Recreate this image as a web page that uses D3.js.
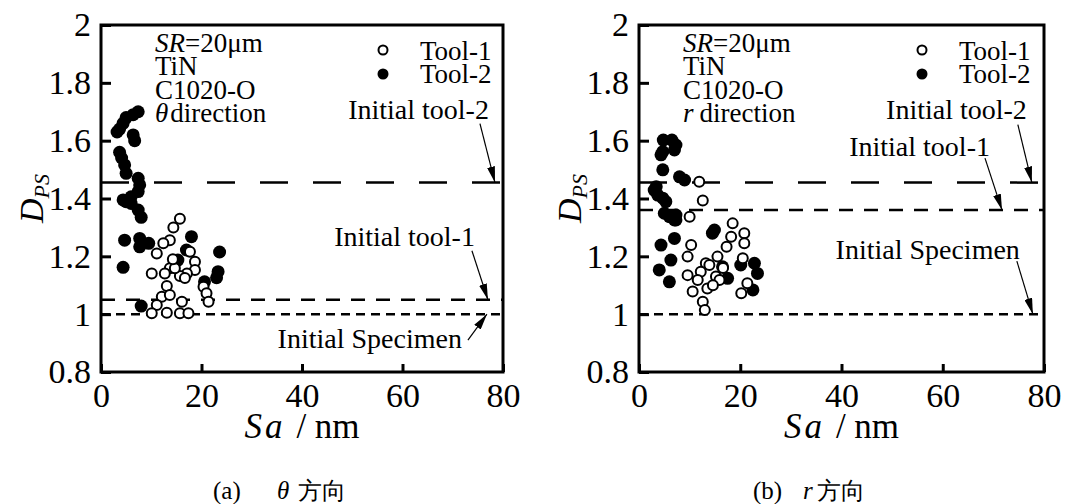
<!DOCTYPE html>
<html>
<head>
<meta charset="utf-8">
<script src="https://cdn.jsdelivr.net/npm/d3@7/dist/d3.min.js"></script>
<style>
  html, body { margin: 0; padding: 0; background: #fff; }
  svg { display: block; }
  text { font-family: "Liberation Serif", "Times New Roman", serif; fill: #000; }
</style>
</head>
<body>
<svg id="chart" width="1065" height="504"></svg>
<script>
// Axis ticks
const xTicks = [0, 20, 40, 60, 80];
const yTicks = [0.8, 1, 1.2, 1.4, 1.6, 1.8, 2];
const yTickLabels = ["0.8", "1", "1.2", "1.4", "1.6", "1.8", "2"];

// Reference levels of the unworn state
const initialLabels = ["Initial tool-2", "Initial tool-1", "Initial Specimen"];
const thetaInitialDps = [1.455, 1.05, 1.0];
const rInitialDps = [1.455, 1.36, 1.0];

// θ direction: Tool-1 (open) and Tool-2 (filled)
const thetaTool1Sa  = [15.7, 14.4, 13.7, 12.4, 11.1, 17.7, 18.7, 18.7, 17.1, 15.7, 16.7, 13.7, 12.7, 10.1, 14.7, 13.1, 12.1, 11.1, 10.1, 13.1, 15.7, 17.4, 16.1, 13.7, 20.4, 21.0, 21.4, 14.3];
const thetaTool1Dps = [1.33, 1.30, 1.256, 1.245, 1.21, 1.216, 1.181, 1.153, 1.141, 1.132, 1.125, 1.159, 1.141, 1.141, 1.159, 1.097, 1.06, 1.032, 1.003, 1.005, 1.003, 1.003, 1.043, 1.066, 1.095, 1.072, 1.043, 1.19];
const thetaTool2Sa  = [7.4, 6.4, 5.0, 4.4, 3.7, 3.2, 6.4, 6.7, 3.7, 4.1, 4.7, 5.0, 7.4, 7.7, 7.4, 6.0, 5.0, 4.4, 6.0, 7.4, 8.0, 4.7, 7.7, 7.7, 9.5, 18.0, 17.0, 15.3, 4.4, 23.6, 23.3, 23.0, 20.6, 8.0];
const thetaTool2Dps = [1.70, 1.69, 1.68, 1.66, 1.64, 1.63, 1.62, 1.60, 1.56, 1.54, 1.516, 1.487, 1.47, 1.447, 1.424, 1.406, 1.389, 1.395, 1.383, 1.36, 1.335, 1.256, 1.262, 1.233, 1.245, 1.268, 1.222, 1.187, 1.162, 1.215, 1.147, 1.126, 1.112, 1.028];

// r direction: Tool-1 (open) and Tool-2 (filled)
const rTool1Sa  = [11.9, 12.6, 10.0, 18.5, 20.8, 18.2, 20.8, 17.3, 10.3, 9.6, 15.5, 20.5, 13.2, 13.9, 12.2, 9.6, 11.6, 15.2, 15.9, 13.5, 10.6, 21.4, 20.2, 12.6, 13.0, 14.6, 16.6];
const rTool1Dps = [1.458, 1.393, 1.337, 1.314, 1.28, 1.268, 1.245, 1.233, 1.239, 1.199, 1.199, 1.193, 1.176, 1.17, 1.147, 1.135, 1.118, 1.13, 1.118, 1.089, 1.078, 1.107, 1.072, 1.043, 1.014, 1.10, 1.16];
const rTool2Sa  = [4.8, 6.5, 7.3, 7.0, 4.7, 4.35, 4.7, 8.0, 9.0, 3.4, 3.0, 3.7, 4.7, 5.3, 5.0, 6.0, 7.3, 7.0, 7.3, 7.0, 4.35, 6.3, 4.0, 6.0, 14.9, 14.5, 16.5, 17.5, 20.1, 22.8, 23.4, 22.5];
const rTool2Dps = [1.602, 1.602, 1.585, 1.568, 1.562, 1.551, 1.499, 1.475, 1.464, 1.441, 1.429, 1.412, 1.401, 1.389, 1.349, 1.337, 1.343, 1.326, 1.326, 1.262, 1.239, 1.187, 1.153, 1.112, 1.291, 1.28, 1.164, 1.124, 1.17, 1.176, 1.141, 1.084];

const infoLines = ["SR=20\u03bcm", "TiN", "C1020-O"];

const svg = d3.select("#chart");

const defs = svg.append("defs");
defs.append("marker")
  .attr("id", "arrowhead")
  .attr("viewBox", "0 0 16 8")
  .attr("refX", 16).attr("refY", 4)
  .attr("markerWidth", 16).attr("markerHeight", 8)
  .attr("markerUnits", "userSpaceOnUse")
  .attr("orient", "auto")
  .append("path").attr("d", "M0,0 L16,4 L0,8 Z").attr("fill", "#000");

const panels = [
  {
    left: 101, right: 503, top: 25, bottom: 372,
    tool1Sa: thetaTool1Sa, tool1Dps: thetaTool1Dps,
    tool2Sa: thetaTool2Sa, tool2Dps: thetaTool2Dps,
    initial: thetaInitialDps,
    dirSymbol: "\u03b8",
    infoX: 155, legendX: 383,
    // arrow tip (Sa) and tail offset / label anchor relative to the tip
    callouts: [
      { tipSa: 78.4, tail: [-15, -59], label: [-6, -64] },
      { tipSa: 77.0, tail: [-16, -49], label: [-13, -54] },
      { tipSa: 76.8, tail: [-19, 26],  label: [-25, 34] }
    ],
    caption: "(a)", captionSym: "\u03b8",
    captionStart: 213, symDx: 64, cjkDx: 85
  },
  {
    left: 639, right: 1044, top: 25, bottom: 372,
    tool1Sa: rTool1Sa, tool1Dps: rTool1Dps,
    tool2Sa: rTool2Sa, tool2Dps: rTool2Dps,
    initial: rInitialDps,
    dirSymbol: "r",
    infoX: 683, legendX: 922,
    callouts: [
      { tipSa: 77.6, tail: [-14, -58], label: [-5, -64] },
      { tipSa: 71.7, tail: [-17, -52], label: [-12, -54] },
      { tipSa: 77.8, tail: [-16, -53], label: [-13, -55] }
    ],
    caption: "(b)", captionSym: "r",
    captionStart: 753, symDx: 50, cjkDx: 64
  }
];

const dashes = ["28,25", "14,11", "9,6"];

panels.forEach(p => {
  const x = d3.scaleLinear().domain([0, 80]).range([p.left, p.right]);
  const y = d3.scaleLinear().domain([0.8, 2]).range([p.bottom, p.top]);
  const g = svg.append("g");

  // reference lines
  p.initial.forEach((v, i) => {
    g.append("line")
      .attr("x1", x(0)).attr("x2", x(80))
      .attr("y1", y(v)).attr("y2", y(v))
      .attr("stroke", "#000").attr("stroke-width", 2.5)
      .attr("stroke-dasharray", dashes[i]);
  });

  // Tool-2 (filled) then Tool-1 (open)
  g.append("g").selectAll("circle")
    .data(p.tool2Sa.map((s, i) => [s, p.tool2Dps[i]]))
    .join("circle")
    .attr("cx", d => x(d[0])).attr("cy", d => y(d[1]))
    .attr("r", 6.5).attr("fill", "#000");

  g.append("g").selectAll("circle")
    .data(p.tool1Sa.map((s, i) => [s, p.tool1Dps[i]]))
    .join("circle")
    .attr("cx", d => x(d[0])).attr("cy", d => y(d[1]))
    .attr("r", 5).attr("fill", "#fff")
    .attr("stroke", "#000").attr("stroke-width", 2);

  // axes with inward ticks
  const yAxis = d3.axisLeft(y).tickValues(yTicks)
    .tickFormat((d, i) => yTickLabels[i]).tickSizeInner(-10).tickSizeOuter(0).tickPadding(10);
  const ya = g.append("g").attr("transform", `translate(${p.left},0)`).call(yAxis);
  ya.select(".domain").remove();
  ya.selectAll(".tick line").attr("stroke-width", 3);
  ya.selectAll("text").attr("font-size", 34).attr("font-family", "Liberation Serif");

  const xAxis = d3.axisBottom(x).tickValues(xTicks).tickSizeInner(-8).tickSizeOuter(0).tickPadding(11);
  const xa = g.append("g").attr("transform", `translate(0,${p.bottom})`).call(xAxis);
  xa.select(".domain").remove();
  xa.selectAll(".tick line").attr("stroke-width", 3);
  xa.selectAll("text").attr("font-size", 34).attr("font-family", "Liberation Serif");

  // frame
  g.append("rect")
    .attr("x", p.left).attr("y", p.top)
    .attr("width", p.right - p.left).attr("height", p.bottom - p.top)
    .attr("fill", "none").attr("stroke", "#000").attr("stroke-width", 3);

  // condition text
  const info = g.append("text").attr("font-size", 27);
  info.append("tspan").attr("x", p.infoX).attr("y", 52).attr("font-style", "italic").text("SR");
  info.append("tspan").text("=20\u03bcm");
  g.append("text").attr("font-size", 27).attr("x", p.infoX).attr("y", 75).text(infoLines[1]);
  g.append("text").attr("font-size", 27).attr("x", p.infoX).attr("y", 99).text(infoLines[2]);
  const dir = g.append("text").attr("font-size", 27).attr("x", p.infoX).attr("y", 122);
  dir.append("tspan").attr("font-style", "italic").text(p.dirSymbol);
  dir.append("tspan").attr("dx", p.dirSymbol === "r" ? 6 : 2).text("direction");

  // legend
  g.append("circle").attr("cx", p.legendX).attr("cy", 50).attr("r", 4.5)
    .attr("fill", "#fff").attr("stroke", "#000").attr("stroke-width", 2);
  g.append("circle").attr("cx", p.legendX).attr("cy", 74).attr("r", 5.5).attr("fill", "#000");
  g.append("text").attr("font-size", 27).attr("x", p.legendX + 37).attr("y", 60).text("Tool-1");
  g.append("text").attr("font-size", 27).attr("x", p.legendX + 37).attr("y", 83).text("Tool-2");

  // callouts
  p.callouts.forEach((c, i) => {
    const tx = x(c.tipSa), ty = y(p.initial[i]);
    g.append("line")
      .attr("x1", tx + c.tail[0]).attr("y1", ty + c.tail[1])
      .attr("x2", tx).attr("y2", ty)
      .attr("stroke", "#000").attr("stroke-width", 1.2)
      .attr("marker-end", "url(#arrowhead)");
    g.append("text").attr("font-size", 28)
      .attr("text-anchor", "end")
      .attr("x", tx + c.label[0]).attr("y", ty + c.label[1])
      .text(initialLabels[i]);
  });

  // axis titles
  const cx = (p.left + p.right) / 2;
  const xt = g.append("text").attr("font-size", 35).attr("x", cx).attr("y", 438).attr("text-anchor", "middle");
  xt.append("tspan").attr("font-style", "italic").text("S");
  xt.append("tspan").attr("font-style", "italic").attr("dx", 3).text("a");
  xt.append("tspan").attr("dx", 14).text("/ nm");

  const yt = g.append("text").attr("font-size", 34)
    .attr("transform", `translate(${p.left - 58},${(p.top + p.bottom) / 2}) rotate(-90)`)
    .attr("text-anchor", "middle");
  yt.append("tspan").attr("font-style", "italic").text("D");
  yt.append("tspan").attr("font-style", "italic").attr("font-size", 22).attr("dy", 6).text("PS");

  // caption
  svg.append("text").attr("font-size", 25).attr("x", p.captionStart).attr("y", 499).text(p.caption);
  svg.append("text").attr("font-size", 25).attr("font-style", "italic")
    .attr("x", p.captionStart + p.symDx).attr("y", 499).text(p.captionSym);
  svg.append("text").attr("font-size", 24).attr("font-family", "Noto Sans CJK SC")
    .attr("x", p.captionStart + p.cjkDx).attr("y", 499).text("\u65b9\u5411");
});
</script>
</body>
</html>
